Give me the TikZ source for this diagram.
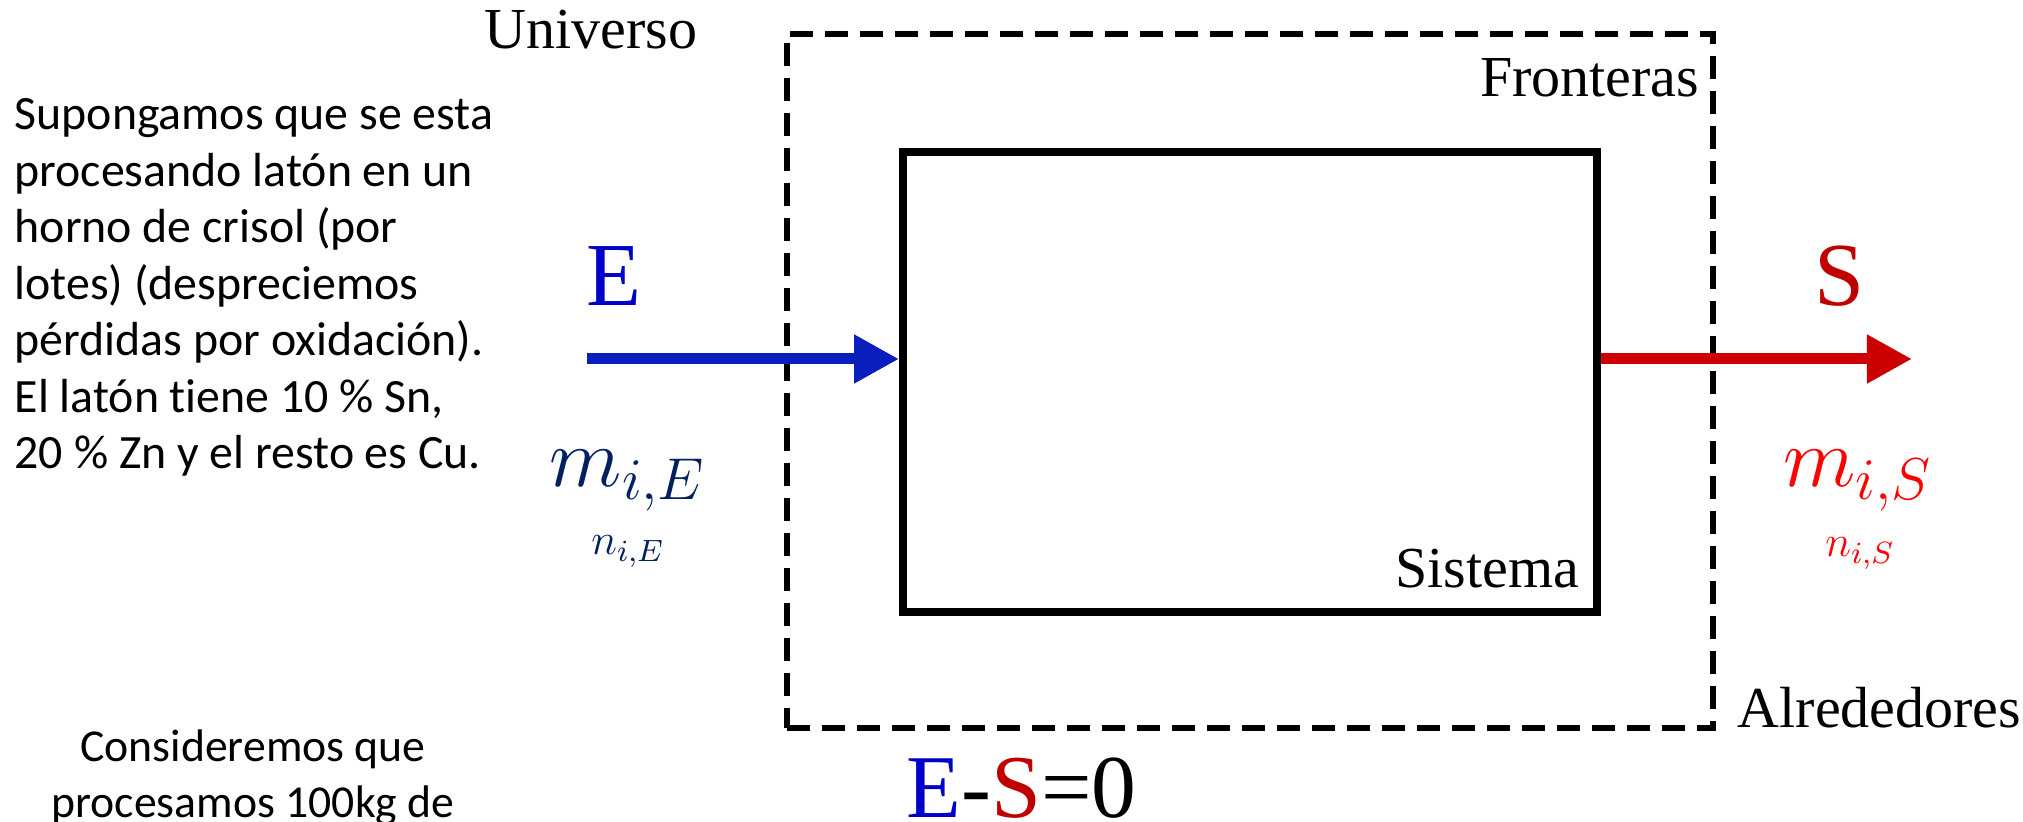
\RequirePackage{fix-cm}
\documentclass[tikz,border=0pt]{standalone}
\usepackage{fontspec}
\setmainfont{Liberation Serif}
\newfontfamily\calibri[Ligatures=NoCommon]{Carlito}
\usepackage{xcolor}
\usepackage{tikz}
\usetikzlibrary{arrows.meta,positioning}
\definecolor{azulE}{RGB}{0,0,200}
\definecolor{azulflecha}{RGB}{10,30,190}
\definecolor{azulm}{RGB}{0,32,96}
\definecolor{rojoS}{RGB}{192,0,0}
\definecolor{rojoflecha}{RGB}{204,0,0}
\definecolor{rojom}{RGB}{255,0,0}

\begin{document}
\begin{tikzpicture}[x=0.01cm,y=-0.01cm,>={Triangle[length=0.45cm,width=0.46cm]},
  every node/.style={inner sep=0pt},
  rotulo/.style={font=\fontsize{16.5pt}{18pt}\selectfont},
  letra/.style={font=\fontsize{25.6pt}{28pt}\selectfont},
  masa/.style={font=\fontsize{24pt}{26pt}\selectfont},
  moles/.style={font=\fontsize{12.5pt}{14pt}\selectfont},
  nota/.style={font=\calibri\fontsize{13.6pt}{16.07pt}\selectfont},
  flujo/.style={line width=0.11cm,->}]
  \useasboundingbox (0,0) rectangle (2023,822);
  \node[draw,dash pattern=on 0.23cm off 0.12cm,line width=0.06cm,minimum width=9.26cm,minimum height=6.94cm] (front) at (1250,381) {};
  \node[draw,line width=0.075cm,minimum width=6.94cm,minimum height=4.6cm] (sis) at (1250,382) {};
  \coordinate (ent) at (587,359);
  \coordinate (sal) at (1912,359);
  \draw[flujo,azulflecha] (ent) -- (ent -| sis.west);
  \draw[flujo,rojoflecha] (sal -| sis.east) -- (sal);
  \node[rotulo,anchor=base west] (univ) at (484,49) {Universo};
  \node[rotulo,anchor=base east] (fron) at (1700,97) {Fronteras};
  \node[rotulo,anchor=base east] (sist) at (1580,588) {Sistema};
  \node[rotulo,anchor=base west] (alred) at (1737,728) {Alrededores};
  \node[letra,azulE,anchor=base] (E) at (614,306) {E};
  \node[letra,rojoS,anchor=base] (S) at (1840,306) {S};
  \node[masa,azulm,anchor=base] (mE) at (628,487) {$m_{i,E}$};
  \node[moles,azulm,anchor=base] (nE) at (628,555) {$n_{i,E}$};
  \node[masa,rojom,anchor=base] (mS) at (1858,487) {$m_{i,S}$};
  \node[moles,rojom,anchor=base] (nS) at (1860,557) {$n_{i,S}$};
  \node[font=\fontsize{25.5pt}{28pt}\selectfont,anchor=base west] (balance) at (906,818) {\textcolor{azulE}{E}-\textcolor{rojoS}{S}=0};
  \node[nota,align=left,anchor=base west] (enunciado) at (14,469) {Supongamos que se esta\\procesando latón en un\\horno de crisol (por\\lotes) (despreciemos\\pérdidas por oxidación).\\El latón tiene 10 \% Sn,\\20 \% Zn y el resto es Cu.};
  \node[nota,font=\calibri\fontsize{13pt}{16.07pt}\selectfont,align=center,anchor=base] (datos) at (253,818) {Consideremos que\\procesamos 100kg de};
\end{tikzpicture}
\end{document}
